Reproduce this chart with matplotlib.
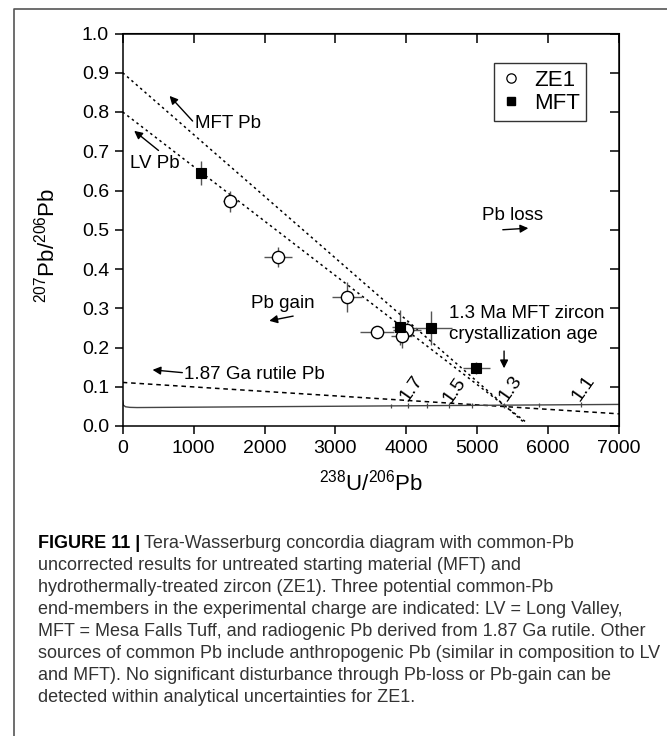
import matplotlib
matplotlib.use('Agg')
import matplotlib.pyplot as plt
from matplotlib.lines import Line2D

plt.rcParams['font.family'] = ['Liberation Sans', 'DejaVu Sans']
plt.rcParams['mathtext.fontset'] = 'custom'
plt.rcParams['mathtext.rm'] = 'Liberation Sans'
plt.rcParams['mathtext.it'] = 'Liberation Sans:italic'
plt.rcParams['mathtext.bf'] = 'Liberation Sans:bold'

# ---------------- data ----------------
ze1_x = [1520, 2190, 3167, 3588, 4008, 3936]
ze1_y = [0.572, 0.431, 0.328, 0.240, 0.245, 0.230]
ze1_xerr = [105, 200, 210, 240, 200, 150]
ze1_yerr = [0.026, 0.025, 0.038, 0.015, 0.020, 0.030]

mft_x = [1110, 3918, 4345, 4988]
mft_y = [0.645, 0.251, 0.250, 0.148]
mft_xerr = [50, 120, 300, 190]
mft_yerr = [0.030, 0.045, 0.043, 0.015]

# common-Pb mixing lines
mft_line_x = [0, 5680]
mft_line_y = [0.900, 0.006]
lv_line_x = [0, 5680]
lv_line_y = [0.800, 0.011]
rutile_line_x = [0, 7000]
rutile_line_y = [0.111, 0.031]

# concordia
conc_x = [0, 10, 40, 100, 200, 7000]
conc_y = [0.064, 0.053, 0.049, 0.0475, 0.047, 0.055]
age_tick_x = [6466, 5873, 5379, 4923, 4604, 4296, 4026, 3788]
age_tick_y = [0.0544, 0.0537, 0.0531, 0.0526, 0.0522, 0.0518, 0.0515, 0.0512]
age_labels = ['1.7', '1.5', '1.3', '1.1']
age_label_x = [4075, 4675, 5470, 6505]
age_label_y = [0.096, 0.092, 0.097, 0.097]

x_ticks = [0, 1000, 2000, 3000, 4000, 5000, 6000, 7000]
y_ticks = [0.0, 0.1, 0.2, 0.3, 0.4, 0.5, 0.6, 0.7, 0.8, 0.9, 1.0]
y_ticklabels = ['0.0', '0.1', '0.2', '0.3', '0.4', '0.5', '0.6', '0.7', '0.8', '0.9', '1.0']

caption_lines = [
    "Tera-Wasserburg concordia diagram with common-Pb",
    "uncorrected results for untreated starting material (MFT) and",
    "hydrothermally-treated zircon (ZE1). Three potential common-Pb",
    "end-members in the experimental charge are indicated: LV = Long Valley,",
    "MFT = Mesa Falls Tuff, and radiogenic Pb derived from 1.87 Ga rutile. Other",
    "sources of common Pb include anthropogenic Pb (similar in composition to LV",
    "and MFT). No significant disturbance through Pb-loss or Pb-gain can be",
    "detected within analytical uncertainties for ZE1.",
]
caption_head = "FIGURE 11 |"

# ---------------- figure ----------------
W, H = 667, 736
fig = plt.figure(figsize=(W / 100, H / 100), dpi=100)
ax = fig.add_axes([122.7 / W, 1 - 426 / H, 496.3 / W, 392.5 / H])

dash_fine = (0, (1.6, 2.2))
ax.plot(mft_line_x, mft_line_y, color='black', lw=1.1, ls=dash_fine, zorder=2)
ax.plot(lv_line_x, lv_line_y, color='black', lw=1.1, ls=dash_fine, zorder=2)
ax.plot(rutile_line_x, rutile_line_y, color='black', lw=1.1, ls=(0, (3, 2.5)), zorder=2)

ax.plot(conc_x, conc_y, color='#444444', lw=1.0, zorder=2)
ax.errorbar(age_tick_x, age_tick_y, yerr=0.006, fmt='none', ecolor='#444444',
            elinewidth=0.9, capsize=0, zorder=2)
for lab, lx, ly in zip(age_labels, age_label_x, age_label_y):
    ax.text(lx, ly, lab, rotation=55, ha='center', va='center', fontsize=14)

# data
ax.errorbar(ze1_x, ze1_y, xerr=ze1_xerr, yerr=ze1_yerr, fmt='none',
            ecolor='#555555', elinewidth=1.0, capsize=0, zorder=3)
ax.errorbar(mft_x, mft_y, xerr=mft_xerr, yerr=mft_yerr, fmt='none',
            ecolor='#555555', elinewidth=1.0, capsize=0, zorder=3)
ax.plot(ze1_x, ze1_y, 'o', ms=8.8, mfc='white', mec='black', mew=1.0, ls='none', zorder=4)
ax.plot(mft_x, mft_y, 's', ms=6.6, mfc='black', mec='black', mew=0.8, ls='none', zorder=5)

# annotations
afs = 13.5
ap = dict(arrowstyle='-|>', color='black', lw=1.0, mutation_scale=12, shrinkA=0, shrinkB=0)
ax.text(1022, 0.770, 'MFT Pb', fontsize=afs, ha='left', va='center')
ax.annotate('', xy=(661, 0.841), xytext=(986, 0.777), arrowprops=ap)
ax.text(102, 0.668, 'LV Pb', fontsize=afs, ha='left', va='center')
ax.annotate('', xy=(162, 0.752), xytext=(505, 0.702), arrowprops=ap)
ax.text(5072, 0.537, 'Pb loss', fontsize=afs, ha='left', va='center')
ax.annotate('', xy=(5721, 0.504), xytext=(5361, 0.500), arrowprops=ap)
ax.text(1815, 0.312, 'Pb gain', fontsize=afs, ha='left', va='center')
ax.annotate('', xy=(2067, 0.268), xytext=(2404, 0.280), arrowprops=ap)
ax.text(4609, 0.287, '1.3 Ma MFT zircon', fontsize=afs, ha='left', va='center')
ax.text(4609, 0.234, 'crystallization age', fontsize=afs, ha='left', va='center')
ax.annotate('', xy=(5379, 0.147), xytext=(5379, 0.191), arrowprops=ap)
ax.text(865, 0.132, '1.87 Ga rutile Pb', fontsize=afs, ha='left', va='center')
ax.annotate('', xy=(421, 0.143), xytext=(841, 0.136), arrowprops=ap)

# axes
ax.set_xlim(0, 7000)
ax.set_ylim(0, 1.0)
ax.set_xticks(x_ticks)
ax.set_yticks(y_ticks)
ax.set_yticklabels(y_ticklabels)
ax.tick_params(direction='out', length=5.8, width=1.1, labelsize=14, pad=4,
               top=False, right=False)
for s in ax.spines.values():
    s.set_linewidth(1.1)

secx = ax.secondary_xaxis('top')
secx.set_xticks(x_ticks)
secx.set_xticklabels([])
secx.tick_params(direction='in', length=7, width=1.1)
secy = ax.secondary_yaxis('right')
secy.set_yticks(y_ticks)
secy.set_yticklabels([])
secy.tick_params(direction='in', length=6.5, width=1.1)

ax.set_xlabel(r'$^{238}$U/$^{206}$Pb', fontsize=16, va='center')
ax.xaxis.set_label_coords(0.5, -0.145)
ax.set_ylabel(r'$^{207}$Pb/$^{206}$Pb', fontsize=16, va='center')
ax.yaxis.set_label_coords(-0.1525, 0.46)

# legend
handles = [Line2D([], [], marker='o', ls='none', ms=6.7, mfc='white', mec='black', mew=0.9),
           Line2D([], [], marker='s', ls='none', ms=6.0, mfc='black', mec='black')]
leg = ax.legend(handles, ['ZE1', 'MFT'], loc='upper left', bbox_to_anchor=(0.748, 0.925),
                fontsize=16, frameon=True, fancybox=False, edgecolor='black',
                handlelength=0.9, handletextpad=0.6, labelspacing=0.12,
                borderpad=0.3, borderaxespad=0)
leg.get_frame().set_linewidth(1.0)

# figure border
fig.add_artist(Line2D([14 / W, 14 / W, 1.0], [0, 1 - 9 / H, 1 - 9 / H],
                      transform=fig.transFigure, color='#555555', lw=1.2))

# caption
cap_x = 38 / W
cap_y0 = 543
cap_dy = 22
cap_color = '#333333'
fs0 = 12
texts = []
head = fig.text(cap_x, 1 - cap_y0 / H, caption_head, fontsize=fs0, fontweight='bold',
                color='black', ha='left', va='center')
for i, line in enumerate(caption_lines):
    t = fig.text(cap_x, 1 - (cap_y0 + i * cap_dy) / H, line, fontsize=fs0,
                 color=cap_color, ha='left', va='center')
    texts.append(t)

fig.canvas.draw()
r = fig.canvas.get_renderer()
w6 = texts[5].get_window_extent(r).width
scale = 622 / w6
fs = fs0 * scale
head.set_fontsize(fs)
for t in texts:
    t.set_fontsize(fs)
fig.canvas.draw()
hb = head.get_window_extent(r)
texts[0].set_x((hb.x1 + fs * 0.3) / W)

fig.savefig('out.png', dpi=100)
